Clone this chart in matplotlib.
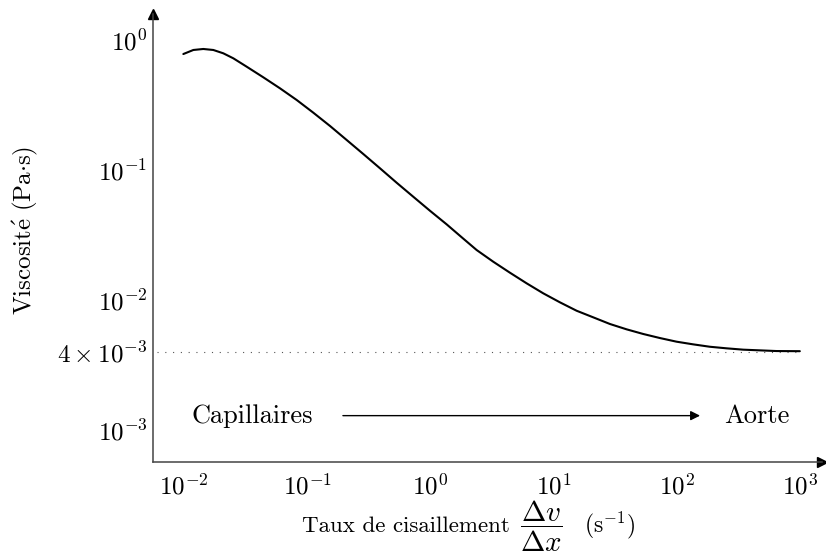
import numpy as np
import matplotlib
matplotlib.use("Agg")
from matplotlib import pyplot as plt
from matplotlib import ticker

plt.rcParams['font.family'] = ['cmr10', 'DejaVu Serif']
plt.rcParams['mathtext.fontset'] = 'cm'
plt.rcParams['axes.unicode_minus'] = False

# valeurs (taux de cisaillement en s^-1, viscosité en Pa.s)
shear_rate = [0.00987, 0.0119, 0.01434, 0.01729, 0.02084, 0.02513, 0.03228, 0.04402,
              0.0601, 0.0822, 0.1121, 0.1532, 0.2093, 0.2853, 0.3899, 0.5327,
              0.7264, 0.9926, 1.356, 1.795, 2.376, 3.240, 4.428, 6.050,
              8.251, 11.27, 15.40, 21.00, 28.70, 39.20, 53.47, 73.05,
              99.8, 136.1, 186.0, 254.1, 346.6, 473.5, 647.1, 1000]
viscosity = [0.780, 0.838, 0.853, 0.838, 0.790, 0.723, 0.623, 0.5164,
             0.4251, 0.3455, 0.2760, 0.2181, 0.1701, 0.1328, 0.1031, 0.0798,
             0.0623, 0.0486, 0.0382, 0.0304, 0.02424, 0.01971, 0.01622, 0.01344,
             0.01126, 0.00960, 0.00827, 0.00736, 0.00654, 0.00595, 0.00548, 0.00510,
             0.00478, 0.00456, 0.00437, 0.00425, 0.00415, 0.00410, 0.00405, 0.00404]

eta_inf = 4e-3
x_ticks = [1e-2, 1e-1, 1e0, 1e1, 1e2, 1e3]
y_ticks = [1e-3, 4e-3, 1e-2, 1e-1, 1e0]
y_tick_labels = [r'$10^{-3}$', r'$4\times10^{-3}$', r'$10^{-2}$', r'$10^{-1}$', r'$10^{0}$']

fig = plt.figure(figsize=(8.26, 5.55), dpi=100)
ax = fig.add_axes([153 / 826, 93 / 555, (822 - 153) / 826, (462 - 14) / 555])

ax.set_xscale('log')
ax.set_yscale('log')
ax.set_xlim(10 ** -2.252, 10 ** 3.18)
ax.set_ylim(10 ** -3.246, 10 ** 0.2)

ax.plot(shear_rate, viscosity, color='black', lw=1.5, solid_capstyle='round',
        solid_joinstyle='round')
ax.plot([10 ** -2.22, 1000], [eta_inf, eta_inf], color='#555555', lw=0.8,
        linestyle=(0, (1, 6)))

# annotations
y_txt = 1.29e-3
ax.text(10 ** -1.45, y_txt, 'Capillaires', ha='center', va='center', fontsize=19)
ax.text(10 ** 2.65, y_txt, 'Aorte', ha='center', va='center', fontsize=19)
ax.annotate('', xy=(10 ** 2.19, y_txt), xytext=(10 ** -0.71, y_txt),
            arrowprops=dict(arrowstyle='-|>', color='black', lw=1.0,
                            mutation_scale=14, shrinkA=0, shrinkB=0))

# axes
for s in ['top', 'right']:
    ax.spines[s].set_visible(False)
for s in ['left', 'bottom']:
    ax.spines[s].set_color('#444444')
    ax.spines[s].set_linewidth(1.1)
ax.plot(1, 0, '>', color='black', ms=7, transform=ax.transAxes, clip_on=False)
ax.plot(0, 1, '^', color='black', ms=7, transform=ax.transAxes, clip_on=False)

ax.xaxis.set_major_locator(ticker.FixedLocator(x_ticks))
ax.xaxis.set_major_formatter(ticker.LogFormatterMathtext())
ax.xaxis.set_minor_locator(ticker.NullLocator())
ax.set_yticks(y_ticks)
ax.set_yticklabels(y_tick_labels)
ax.yaxis.set_minor_locator(ticker.NullLocator())
ax.tick_params(length=0, labelsize=18)
ax.tick_params(axis='x', pad=8)
ax.tick_params(axis='y', pad=4)

ax.set_ylabel(r'$\mathrm{Viscosit\acute{e}\ (Pa{\cdot}s)}$', fontsize=18)
ax.yaxis.set_label_coords((40 - 153) / 669, (462 - 230) / 448)

# titre de l'axe x en trois morceaux pour avoir une grande fraction
fig.text(510 / 826, (555 - 532) / 555, 'Taux de cisaillement', ha='right',
         va='baseline', fontsize=16.5)
fig.text(541 / 826, (555 - 526) / 555, r'$\dfrac{\Delta v}{\Delta x}$', ha='center',
         va='center', fontsize=21)
fig.text(584 / 826, (555 - 532) / 555, r'(s$^{-1}$)', ha='left', va='baseline',
         fontsize=17)

fig.savefig('out.png', dpi=100)
